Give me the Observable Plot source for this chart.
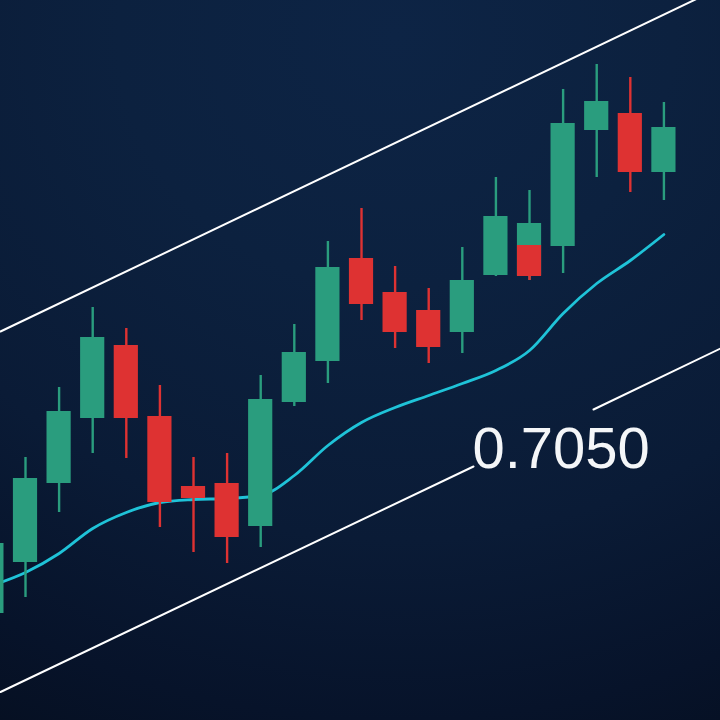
<!DOCTYPE html>
<html>
<head>
<meta charset="utf-8">
<script src="https://cdn.jsdelivr.net/npm/d3@7"></script>
<script src="https://cdn.jsdelivr.net/npm/@observablehq/plot@0.6"></script>
<style>
  html, body { margin: 0; padding: 0; background: #0a1a35; }
  #chart svg { display: block; }
</style>
</head>
<body>
<div id="chart"></div>
<script>
// Candle index (one per session); index 16 has an overlapping second body
const candleIndex = [0, 1, 2, 3, 4, 5, 6, 7, 8, 9, 10, 11, 12, 13, 14, 15, 16, 16, 17, 18, 19, 20];
const openValues  = [107, 158, 237, 302, 375, 304, 234, 237, 194, 318, 359, 462, 428, 410, 388, 445, 445, 475, 474, 590, 607, 548];
const highValues  = [250, 263, 333, 413, 392, 335, 263, 267, 345, 396, 479, 512, 454, 432, 473, 543, 530, 475, 631, 656, 643, 618];
const lowValues   = [ 95, 123, 208, 267, 262, 193, 168, 157, 173, 314, 337, 400, 372, 357, 367, 444, 440, 440, 447, 543, 528, 520];
const closeValues = [177, 242, 309, 383, 302, 218, 222, 183, 321, 368, 453, 416, 388, 373, 440, 504, 497, 444, 597, 619, 548, 593];

// Moving average, one value per session index
const maIndex  = [0, 1, 2, 3, 4, 5, 6, 7, 8, 9, 10, 11, 12, 13, 14, 15, 16, 17, 18, 19, 20];
const maValues = [135, 148, 167, 192, 208, 218, 221, 222, 225, 245, 275, 298, 313, 325, 337, 350, 370, 407, 437, 460, 486];

// Trend channel (upper and lower boundary lines, lower one broken by the label)
const upperX = [0.256, 21.684];
const upperY = [389, 733];
const lowerSegment1X = [0.256, 14.333];
const lowerSegment1Y = [28.5, 254];
const lowerSegment2X = [17.905, 21.684];
const lowerSegment2Y = [311, 372];

// Price label
const labelText = ["0.7050"];
const labelX = [14.30];
const labelY = [271];

const candles = candleIndex.map((i, k) => ({
  i, open: openValues[k], high: highValues[k], low: lowValues[k], close: closeValues[k],
  up: closeValues[k] >= openValues[k]
}));
const ma = maIndex.map((i, k) => ({i, v: maValues[k]}));
const upper = upperX.map((x, k) => ({x, y: upperY[k]}));
const lower1 = lowerSegment1X.map((x, k) => ({x, y: lowerSegment1Y[k]}));
const lower2 = lowerSegment2X.map((x, k) => ({x, y: lowerSegment2Y[k]}));
const labels = labelText.map((t, k) => ({t, x: labelX[k], y: labelY[k]}));

const GREEN = "#2a9d7e";
const RED = "#de3232";
const half = 0.36;

const chart = Plot.plot({
  width: 720,
  height: 720,
  margin: 0,
  x: {domain: [0.256, 21.684], axis: null},
  y: {domain: [0, 720], axis: null},
  style: {
    background: "radial-gradient(ellipse 110% 100% at 55% 5%, #0d2445 0%, #0c213f 35%, #0a1b36 70%, #07132a 95%, #050e1e 115%)",
    overflow: "hidden"
  },
  marks: [
    Plot.line(upper, {x: "x", y: "y", stroke: "#ffffff", strokeWidth: 2, clip: true}),
    Plot.line(lower1, {x: "x", y: "y", stroke: "#ffffff", strokeWidth: 2, clip: true}),
    Plot.line(lower2, {x: "x", y: "y", stroke: "#ffffff", strokeWidth: 2, clip: true}),
    Plot.line(ma, {x: "i", y: "v", stroke: "#1fc3d8", strokeWidth: 2.8, curve: "monotone-x"}),
    Plot.ruleX(candles, {x: "i", y1: "low", y2: "high", stroke: d => d.up ? GREEN : RED, strokeWidth: 2.4}),
    Plot.rect(candles, {
      x1: d => d.i - half, x2: d => d.i + half,
      y1: "open", y2: "close",
      fill: d => d.up ? GREEN : RED
    }),
    Plot.text(labels, {
      x: "x", y: "y", text: "t", textAnchor: "start", lineAnchor: "middle",
      fill: "#f4f6f8", fontSize: 58, fontFamily: "Liberation Sans, Arial, sans-serif"
    })
  ]
});
document.getElementById("chart").appendChild(chart);
</script>
</body>
</html>
